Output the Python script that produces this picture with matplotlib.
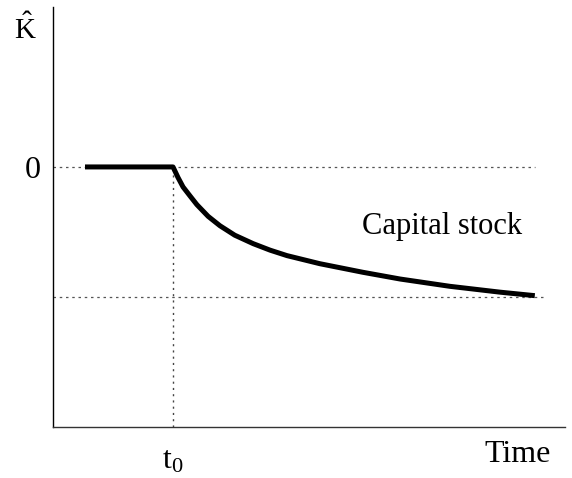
import matplotlib
matplotlib.use("Agg")
import matplotlib.pyplot as plt

plt.rcParams["font.family"] = ["Liberation Serif", "DejaVu Serif"]
plt.rcParams["mathtext.fontset"] = "custom"
plt.rcParams["mathtext.rm"] = "Liberation Serif"
plt.rcParams["mathtext.it"] = "Liberation Serif:italic"

# capital stock path (time in arbitrary units, K-hat relative to zero)
time_pts = [0.625, 2.344, 2.44, 2.54, 2.68, 2.81, 3.03, 3.26, 3.55, 3.91, 4.24,
            4.57, 5.21, 6.05, 6.78, 7.75, 8.73, 9.41]
k_hat = [0.0, 0.0, -0.08, -0.154, -0.225, -0.29, -0.38, -0.452, -0.525, -0.59,
         -0.64, -0.682, -0.744, -0.81, -0.862, -0.918, -0.963, -0.99]
t0 = 2.344
new_level = -1.0
x_labels = ["t$_{\\mathrm{0}}$"]
y_labels = ["0"]

fig = plt.figure(figsize=(5.72, 4.78), dpi=100)
ax = fig.add_axes([53 / 572, 51 / 478, 512 / 572, 420 / 478])
ax.set_xlim(0, 10)
ax.set_ylim(-2.0, 1.23)

ax.axhline(0, xmin=0, xmax=0.941, color="#555555", lw=0.9, ls=(0, (2, 3)))
ax.axhline(new_level, xmin=0, xmax=0.96, color="#555555", lw=0.9, ls=(0, (2, 3)))
ax.plot([t0, t0], [-2.0, 0], color="#444444", lw=1.0, ls=(0, (1.5, 3)))
ax.plot(time_pts, k_hat, color="black", lw=3.6, solid_capstyle="butt",
        solid_joinstyle="round")

ax.text(7.6, -0.46, "Capital stock", fontsize=22, ha="center", va="center")

for side in ("top", "right"):
    ax.spines[side].set_visible(False)
ax.spines["left"].set_linewidth(1.0)
ax.spines["bottom"].set_linewidth(1.0)
ax.spines["bottom"].set_color("#333333")
ax.set_xticks([t0])
ax.set_xticklabels(x_labels, fontsize=23)
ax.set_yticks([0])
ax.set_yticklabels(y_labels, fontsize=23)
ax.tick_params(axis="x", length=0, pad=14)
ax.tick_params(axis="y", length=0, pad=9)

fig.text(25 / 572, 1 - 29 / 478, "$\\hat{\\mathrm{K}}$", fontsize=21, ha="center", va="center")
fig.text(518 / 572, 1 - 455 / 478, "Time", fontsize=23, ha="center", va="center")

fig.savefig("out.png", dpi=100)
